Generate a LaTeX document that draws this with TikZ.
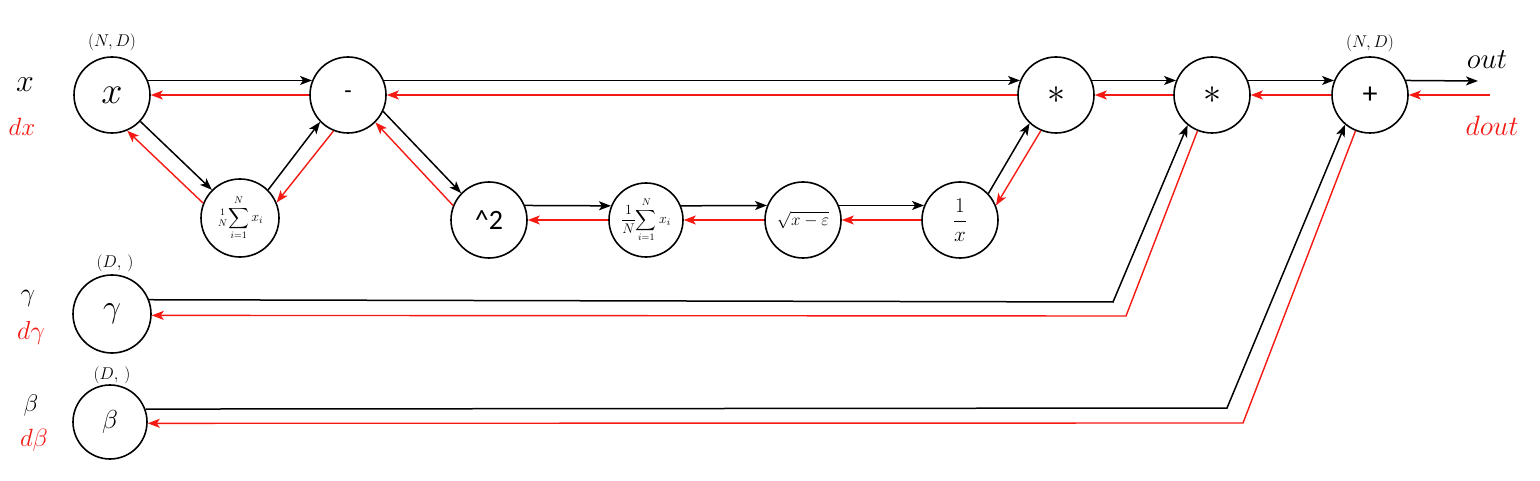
\RequirePackage{fix-cm}
\documentclass[tikz,border=0pt]{standalone}
\usepackage{exscale}
\usepackage{fontspec}
\newfontfamily\calib{Carlito}
\usetikzlibrary{arrows.meta}
\definecolor{myred}{RGB}{245,25,20}
\newcommand{\setfs}[1]{\fontsize{#1pt}{#1pt}\selectfont}
\begin{document}
\begin{tikzpicture}[x=1pt,y=-1pt,
  op/.style={circle,draw,line width=1.6pt,inner sep=0pt,minimum size=76pt},
  fw/.style={-{Stealth[length=12pt,width=9pt,inset=3pt]},line width=1.5pt,black},
  bw/.style={-{Stealth[length=12pt,width=9pt,inset=3pt]},line width=1.4pt,myred},
  lab/.style={inner sep=0pt},
  rlab/.style={inner sep=0pt,text=myred}]
\useasboundingbox[fill=white] (0,0) rectangle (1540,481);
% operation nodes
\node[op] (nx) at (112,95) {\setfs{38}$x$};
\node[op] (nminus) at (348,95) {\calib\setfs{24}-};
\node[op,minimum size=78pt] (nsumA) at (240,218) {\setfs{14}$\displaystyle{\textstyle{1\atop N}}\!\sum_{i=1}^{N}x_i$};
\node[op] (nsq) at (489,220) {\calib\setfs{28}\textasciicircum 2};
\node[op,minimum size=74pt] (nsumB) at (646,220) {\setfs{14}$\displaystyle\frac{1}{N}\!\sum_{i=1}^{N}x_i$};
\node[op] (nsqrt) at (803,220) {\setfs{17}$\sqrt{x-\varepsilon}$};
\node[op] (ninv) at (960,220) {\setfs{21}$\displaystyle\frac{1}{x}$};
\node[op] (nmulA) at (1056,95) {\setfs{36}$\ast$};
\node[op] (nmulB) at (1212,95) {\setfs{36}$\ast$};
\node[op] (nplus) at (1370,95) {\calib\setfs{30}+};
\node[op,minimum size=78pt] (ngam) at (112,314) {\setfs{32}$\gamma$};
\node[op,minimum size=74pt] (nbet) at (110,422) {\setfs{26}$\beta$};
% labels
\node[lab] (lx) at (25,85) {\setfs{32}$x$};
\node[rlab] (ldx) at (22,127) {\setfs{25}$dx$};
\node[lab] (dimx) at (112,42) {\setfs{17}$(N,D)$};
\node[lab] (lg) at (28,298) {\setfs{26}$\gamma$};
\node[rlab] (ldg) at (31,333) {\setfs{26}$d\gamma$};
\node[lab] (dimg) at (115,263) {\setfs{17}$(D,\,)$};
\node[lab] (lb) at (31,405) {\setfs{24}$\beta$};
\node[rlab] (ldb) at (34,440) {\setfs{25}$d\beta$};
\node[lab] (dimb) at (112,375) {\setfs{17}$(D,\,)$};
\node[lab] (dimp) at (1370,43) {\setfs{17}$(N,D)$};
\node[lab] (lout) at (1487,60) {\setfs{29}$out$};
\node[rlab] (ldout) at (1492,126) {\setfs{28}$dout$};
% free ends and corners
\coordinate (outend) at (1478,81);
\coordinate (doutstart) at (1490,95);
\coordinate (gk) at (1113,302);
\coordinate (gr) at (1126,316);
\coordinate (bk) at (1227,408);
\coordinate (br) at (1243,423);
% connectors
\draw[fw] (nx.22) -- (nminus.158);
\draw[bw] (nminus.180) -- (nx.0);
\draw[fw] (nx.-43) -- (nsumA.135);
\draw[bw] (nsumA.158) -- (nx.-67);
\draw[fw] (nsumA.45) -- (nminus.-136);
\draw[bw] (nminus.-112) -- (nsumA.23);
\draw[fw] (nminus.-25) -- (nsq.136);
\draw[bw] (nsq.158) -- (nminus.-45);
\draw[fw] (nminus.22) -- (nmulA.158);
\draw[bw] (nmulA.180) -- (nminus.0);
\draw[fw] (nsq.22) -- (nsumB.158);
\draw[bw] (nsumB.180) -- (nsq.0);
\draw[fw] (nsumB.22) -- (nsqrt.158);
\draw[bw] (nsqrt.180) -- (nsumB.0);
\draw[fw] (nsqrt.22) -- (ninv.158);
\draw[bw] (ninv.180) -- (nsqrt.0);
\draw[fw] (ninv.43) -- (nmulA.-133);
\draw[bw] (nmulA.-113) -- (ninv.22);
\draw[fw] (nmulA.22) -- (nmulB.158);
\draw[bw] (nmulB.180) -- (nmulA.0);
\draw[fw] (nmulB.22) -- (nplus.158);
\draw[bw] (nplus.180) -- (nmulB.0);
\draw[fw] (nplus.22) -- (outend);
\draw[bw] (doutstart) -- (nplus.0);
\draw[fw] (ngam.21) -- (gk) -- (nmulB.-129);
\draw[bw] (nmulB.-112) -- (gr) -- (ngam.-2);
\draw[fw] (nbet.20) -- (bk) -- (nplus.-130);
\draw[bw] (nplus.-112) -- (br) -- (nbet.-2);
\end{tikzpicture}
\end{document}
